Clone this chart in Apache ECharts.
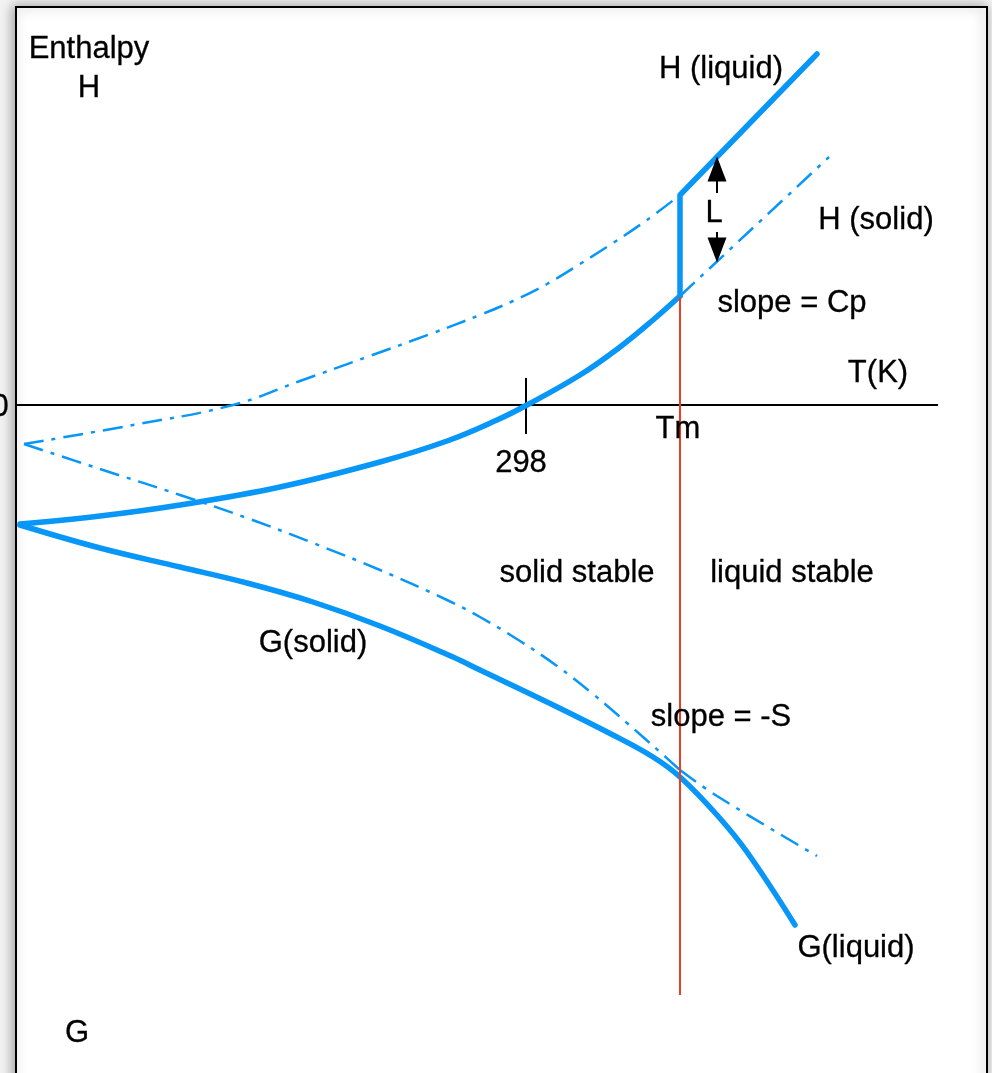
<!DOCTYPE html>
<html>
<head>
<meta charset="utf-8">
<script src="https://cdn.jsdelivr.net/npm/echarts@6/dist/echarts.min.js"></script>
<style>
  html, body { margin: 0; padding: 0; background: #f3f3f3; }
  #chart { width: 992px; height: 1073px; }
</style>
</head>
<body>
<div id="chart"></div>
<script>
// Schematic coordinates: T (horizontal, arbitrary units), E (energy, 0 on the T axis)
const hSolid = [[20,-119],[100,-111],[180,-100],[280,-82],[380,-57],[447,-36],[497,-15],[527,0],[580,30],[620,58],[653,85],[680,109]];
const hLiquid = [[680,109],[680,210],[817,351]];
const hLiquidExt = [[24,-39],[133,-20],[233,0],[300,24],[367,48],[433,72],[480,90],[513,104],[547,121],[580,141],[613,162],[647,185],[680,210]];
const hSolidExt = [[680,109],[829,248]];
const gSolid = [[20,-120],[100,-143],[180,-162],[247,-178],[313,-197],[380,-221],[453,-252],[480,-265],[547,-297],[613,-330],[653,-352],[680,-372],[717,-410],[747,-447],[795,-520]];
const gLiquidExt = [[24,-39],[100,-64],[180,-90],[247,-113],[313,-138],[380,-165],[447,-195],[480,-212],[520,-236],[557,-261],[593,-289],[627,-318],[660,-347],[680,-365]];
const gSolidExt = [[680,-365],[717,-391],[817,-451]];
const tAxis = [[16,0],[938,0]];
const tick298 = [[526,27],[526,-29]];
const tmLine = [[680,108],[680,-590]];
const arrowUpShaft = [[717,212],[717,224]];
const arrowDownShaft = [[717,173],[717,166]];
const arrowUpHead = [717,236];
const arrowDownHead = [717,155];
const annotations = [
  ['Enthalpy', 89, 356],
  ['H', 89, 317],
  ['H (liquid)', 721, 336],
  ['L', 714, 192],
  ['H (solid)', 876, 185],
  ['slope = Cp', 792, 102],
  ['T(K)', 878, 32],
  ['0', 0, -2],
  ['Tm', 678, -24],
  ['298', 521, -58],
  ['solid stable', 577, -168],
  ['liquid stable', 792, -168],
  ['G(solid)', 313, -238],
  ['slope = -S', 721, -312],
  ['G(liquid)', 856, -543],
  ['G', 77, -628]
];

const BLUE = '#0896f7';
const RED = '#f03c1e';
const FONT = '"Liberation Sans", Arial, Helvetica, sans-serif';
const dashDot = [20, 8, 4, 8];

const chart = echarts.init(document.getElementById('chart'), null, { renderer: 'canvas' });

function lineSeries(data, opts) {
  return Object.assign({
    type: 'line', data: data, showSymbol: false, symbol: 'none', silent: true,
    animation: false, clip: false
  }, opts);
}
const smoothOpts = { smooth: 0.4 };
const dashStyle = { color: BLUE, width: 2.5, type: dashDot };
const thickStyle = { color: BLUE, width: 5.5, cap: 'round', join: 'round' };

chart.setOption({
  backgroundColor: '#f3f3f3',
  animation: false,
  graphic: {
    elements: [{
      type: 'rect', z: -10, silent: true,
      shape: { x: 16, y: 7, width: 971, height: 1100 },
      style: { fill: '#ffffff', stroke: '#000000', lineWidth: 2,
               shadowBlur: 12, shadowColor: 'rgba(0,0,0,0.35)', shadowOffsetX: -2 }
    }]
  },
  grid: { left: 0, right: 0, top: 0, bottom: 0, containLabel: false },
  xAxis: { type: 'value', min: 0, max: 992, show: false },
  yAxis: { type: 'value', min: -668, max: 405, show: false },
  series: [
    lineSeries(tAxis, { lineStyle: { color: '#000', width: 2 }, z: 3 }),
    lineSeries(tick298, { lineStyle: { color: '#000', width: 2 }, z: 3 }),
    lineSeries(tmLine, { lineStyle: { color: RED, width: 2 }, z: 6 }),
    lineSeries(hLiquidExt, Object.assign({ lineStyle: dashStyle, z: 4 }, smoothOpts)),
    lineSeries(hSolidExt, { lineStyle: dashStyle, z: 4 }),
    lineSeries(gLiquidExt, Object.assign({ lineStyle: dashStyle, z: 4 }, smoothOpts)),
    lineSeries(gSolidExt, Object.assign({ lineStyle: dashStyle, z: 4 }, smoothOpts)),
    lineSeries(hSolid, Object.assign({ lineStyle: thickStyle, z: 5 }, smoothOpts)),
    lineSeries(hLiquid, { lineStyle: thickStyle, z: 5 }),
    lineSeries(gSolid, Object.assign({ lineStyle: thickStyle, z: 5 }, smoothOpts)),
    lineSeries(arrowUpShaft, { lineStyle: { color: '#000', width: 2 }, z: 7 }),
    lineSeries(arrowDownShaft, { lineStyle: { color: '#000', width: 2 }, z: 7 }),
    {
      type: 'scatter', silent: true, animation: false, clip: false, z: 7,
      data: [
        { value: arrowUpHead, symbol: 'triangle', symbolSize: [19, 25], symbolRotate: 0 },
        { value: arrowDownHead, symbol: 'triangle', symbolSize: [19, 25], symbolRotate: 180 }
      ],
      itemStyle: { color: '#000', opacity: 1 }
    },
    {
      type: 'scatter', silent: true, animation: false, clip: false, z: 8,
      symbolSize: 0,
      itemStyle: { opacity: 1 },
      data: annotations.map(a => ({ name: a[0], value: [a[1], a[2]] })),
      label: {
        show: true, position: 'inside', formatter: p => p.name, opacity: 1,
        color: '#000', fontSize: 31, fontFamily: FONT,
        textBorderColor: '#000', textBorderWidth: 0.3
      }
    }
  ]
});
</script>
</body>
</html>
